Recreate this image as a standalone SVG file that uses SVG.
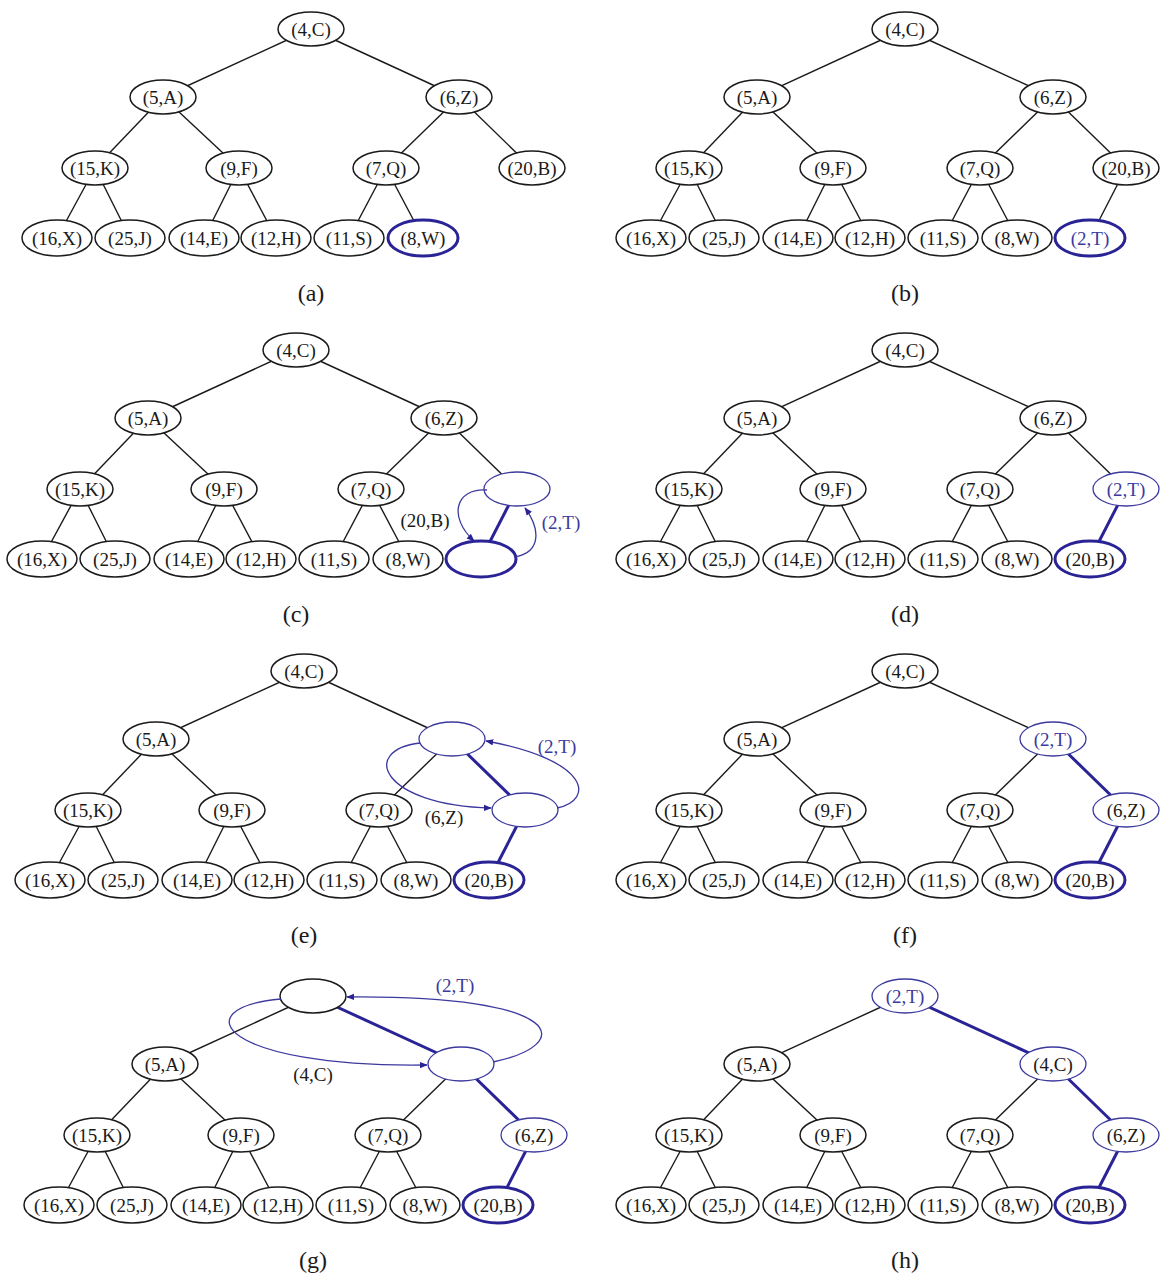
<svg xmlns="http://www.w3.org/2000/svg" width="1168" height="1275" viewBox="0 0 1168 1275">
<defs>
<style>
ellipse{fill:#fff;stroke:#1a1a1a;stroke-width:1.5}
ellipse.b{stroke:#3d3a9e;stroke-width:1.3}
ellipse.t{stroke:#2a2396;stroke-width:3}
line{stroke:#1a1a1a;stroke-width:1.4}
line.t{stroke:#2a2396;stroke-width:3}
path.c{fill:none;stroke:#3d3a9e;stroke-width:1.3}
text{font-family:"Liberation Serif","Times New Roman",serif;font-size:19px;fill:#1a1a1a;text-anchor:middle}
text.bt{fill:#3d3aa0}
text.cap{font-size:24px}
</style>
<marker id="ah" viewBox="0 0 10 10" refX="9" refY="5" markerWidth="8" markerHeight="8" markerUnits="userSpaceOnUse" orient="auto"><path d="M0,1 L10,5 L0,9 z" fill="#2a2396"/></marker>
</defs>
<rect width="1168" height="1275" fill="#fff"/>

<!-- Panel (a) -->
<g id="panel-a">
<g id="a-edges">
<line x1="311" y1="29" x2="163" y2="97"/><line x1="311" y1="29" x2="459" y2="97"/>
<line x1="163" y1="97" x2="95" y2="168"/><line x1="163" y1="97" x2="239" y2="168"/>
<line x1="459" y1="97" x2="386" y2="168"/><line x1="459" y1="97" x2="532" y2="168"/>
<line x1="95" y1="168" x2="57" y2="238"/><line x1="95" y1="168" x2="130" y2="238"/>
<line x1="239" y1="168" x2="204" y2="238"/><line x1="239" y1="168" x2="276" y2="238"/>
<line x1="386" y1="168" x2="349" y2="238"/><line x1="386" y1="168" x2="423" y2="238"/>
</g>
<g id="a-4C"><ellipse cx="311" cy="29" rx="33" ry="17"/><text x="311" y="35.5">(4,C)</text></g>
<g id="a-5A"><ellipse cx="163" cy="97" rx="33" ry="17"/><text x="163" y="103.5">(5,A)</text></g>
<g id="a-6Z"><ellipse cx="459" cy="97" rx="33" ry="17"/><text x="459" y="103.5">(6,Z)</text></g>
<g id="a-15K"><ellipse cx="95" cy="168" rx="33" ry="17"/><text x="95" y="174.5">(15,K)</text></g>
<g id="a-9F"><ellipse cx="239" cy="168" rx="33" ry="17"/><text x="239" y="174.5">(9,F)</text></g>
<g id="a-7Q"><ellipse cx="386" cy="168" rx="33" ry="17"/><text x="386" y="174.5">(7,Q)</text></g>
<g id="a-20B"><ellipse cx="532" cy="168" rx="33" ry="17"/><text x="532" y="174.5">(20,B)</text></g>
<g id="a-16X"><ellipse cx="57" cy="238" rx="35" ry="18"/><text x="57" y="244.5">(16,X)</text></g>
<g id="a-25J"><ellipse cx="130" cy="238" rx="35" ry="18"/><text x="130" y="244.5">(25,J)</text></g>
<g id="a-14E"><ellipse cx="204" cy="238" rx="35" ry="18"/><text x="204" y="244.5">(14,E)</text></g>
<g id="a-12H"><ellipse cx="276" cy="238" rx="35" ry="18"/><text x="276" y="244.5">(12,H)</text></g>
<g id="a-11S"><ellipse cx="349" cy="238" rx="35" ry="18"/><text x="349" y="244.5">(11,S)</text></g>
<g id="a-8W"><ellipse class="t" cx="423" cy="238" rx="35" ry="18"/><text x="423" y="244.5">(8,W)</text></g>
<text class="cap" x="311" y="301">(a)</text>
</g>

<!-- Panel (b) -->
<g id="panel-b" transform="translate(594,0)">
<g id="b-edges">
<line x1="311" y1="29" x2="163" y2="97"/><line x1="311" y1="29" x2="459" y2="97"/>
<line x1="163" y1="97" x2="95" y2="168"/><line x1="163" y1="97" x2="239" y2="168"/>
<line x1="459" y1="97" x2="386" y2="168"/><line x1="459" y1="97" x2="532" y2="168"/>
<line x1="95" y1="168" x2="57" y2="238"/><line x1="95" y1="168" x2="130" y2="238"/>
<line x1="239" y1="168" x2="204" y2="238"/><line x1="239" y1="168" x2="276" y2="238"/>
<line x1="386" y1="168" x2="349" y2="238"/><line x1="386" y1="168" x2="423" y2="238"/>
<line x1="532" y1="168" x2="496" y2="238"/>
</g>
<g id="b-4C"><ellipse cx="311" cy="29" rx="33" ry="17"/><text x="311" y="35.5">(4,C)</text></g>
<g id="b-5A"><ellipse cx="163" cy="97" rx="33" ry="17"/><text x="163" y="103.5">(5,A)</text></g>
<g id="b-6Z"><ellipse cx="459" cy="97" rx="33" ry="17"/><text x="459" y="103.5">(6,Z)</text></g>
<g id="b-15K"><ellipse cx="95" cy="168" rx="33" ry="17"/><text x="95" y="174.5">(15,K)</text></g>
<g id="b-9F"><ellipse cx="239" cy="168" rx="33" ry="17"/><text x="239" y="174.5">(9,F)</text></g>
<g id="b-7Q"><ellipse cx="386" cy="168" rx="33" ry="17"/><text x="386" y="174.5">(7,Q)</text></g>
<g id="b-20B"><ellipse cx="532" cy="168" rx="33" ry="17"/><text x="532" y="174.5">(20,B)</text></g>
<g id="b-16X"><ellipse cx="57" cy="238" rx="35" ry="18"/><text x="57" y="244.5">(16,X)</text></g>
<g id="b-25J"><ellipse cx="130" cy="238" rx="35" ry="18"/><text x="130" y="244.5">(25,J)</text></g>
<g id="b-14E"><ellipse cx="204" cy="238" rx="35" ry="18"/><text x="204" y="244.5">(14,E)</text></g>
<g id="b-12H"><ellipse cx="276" cy="238" rx="35" ry="18"/><text x="276" y="244.5">(12,H)</text></g>
<g id="b-11S"><ellipse cx="349" cy="238" rx="35" ry="18"/><text x="349" y="244.5">(11,S)</text></g>
<g id="b-8W"><ellipse cx="423" cy="238" rx="35" ry="18"/><text x="423" y="244.5">(8,W)</text></g>
<g id="b-2T"><ellipse class="t" cx="496" cy="238" rx="35" ry="18"/><text class="bt" x="496" y="244.5">(2,T)</text></g>
<text class="cap" x="311" y="301">(b)</text>
</g>

<!-- Panel (c) -->
<g id="panel-c" transform="translate(-15,321)">
<g id="c-edges">
<line x1="311" y1="29" x2="163" y2="97"/><line x1="311" y1="29" x2="459" y2="97"/>
<line x1="163" y1="97" x2="95" y2="168"/><line x1="163" y1="97" x2="239" y2="168"/>
<line x1="459" y1="97" x2="386" y2="168"/><line x1="459" y1="97" x2="532" y2="168"/>
<line x1="95" y1="168" x2="57" y2="238"/><line x1="95" y1="168" x2="130" y2="238"/>
<line x1="239" y1="168" x2="204" y2="238"/><line x1="239" y1="168" x2="276" y2="238"/>
<line x1="386" y1="168" x2="349" y2="238"/><line x1="386" y1="168" x2="423" y2="238"/>
<line class="t" x1="532" y1="168" x2="496" y2="238"/>
</g>
<g id="c-4C"><ellipse cx="311" cy="29" rx="33" ry="17"/><text x="311" y="35.5">(4,C)</text></g>
<g id="c-5A"><ellipse cx="163" cy="97" rx="33" ry="17"/><text x="163" y="103.5">(5,A)</text></g>
<g id="c-6Z"><ellipse cx="459" cy="97" rx="33" ry="17"/><text x="459" y="103.5">(6,Z)</text></g>
<g id="c-15K"><ellipse cx="95" cy="168" rx="33" ry="17"/><text x="95" y="174.5">(15,K)</text></g>
<g id="c-9F"><ellipse cx="239" cy="168" rx="33" ry="17"/><text x="239" y="174.5">(9,F)</text></g>
<g id="c-7Q"><ellipse cx="386" cy="168" rx="33" ry="17"/><text x="386" y="174.5">(7,Q)</text></g>
<g id="c-empty1"><ellipse class="b" cx="532" cy="168" rx="33" ry="17"/></g>
<g id="c-16X"><ellipse cx="57" cy="238" rx="35" ry="18"/><text x="57" y="244.5">(16,X)</text></g>
<g id="c-25J"><ellipse cx="130" cy="238" rx="35" ry="18"/><text x="130" y="244.5">(25,J)</text></g>
<g id="c-14E"><ellipse cx="204" cy="238" rx="35" ry="18"/><text x="204" y="244.5">(14,E)</text></g>
<g id="c-12H"><ellipse cx="276" cy="238" rx="35" ry="18"/><text x="276" y="244.5">(12,H)</text></g>
<g id="c-11S"><ellipse cx="349" cy="238" rx="35" ry="18"/><text x="349" y="244.5">(11,S)</text></g>
<g id="c-8W"><ellipse cx="423" cy="238" rx="35" ry="18"/><text x="423" y="244.5">(8,W)</text></g>
<g id="c-empty2"><ellipse class="t" cx="496" cy="238" rx="35" ry="18"/></g>
<g id="c-moves">
<path class="c" d="M502,169 C470,167 463,196 489,220" marker-end="url(#ah)"/>
<path class="c" d="M530,236 C557,231 555,207 540,187" marker-end="url(#ah)"/>
<text x="440" y="206">(20,B)</text>
<text class="bt" x="576" y="208">(2,T)</text>
</g>
<text class="cap" x="311" y="301">(c)</text>
</g>

<!-- Panel (d) -->
<g id="panel-d" transform="translate(594,321)">
<g id="d-edges">
<line x1="311" y1="29" x2="163" y2="97"/><line x1="311" y1="29" x2="459" y2="97"/>
<line x1="163" y1="97" x2="95" y2="168"/><line x1="163" y1="97" x2="239" y2="168"/>
<line x1="459" y1="97" x2="386" y2="168"/><line x1="459" y1="97" x2="532" y2="168"/>
<line x1="95" y1="168" x2="57" y2="238"/><line x1="95" y1="168" x2="130" y2="238"/>
<line x1="239" y1="168" x2="204" y2="238"/><line x1="239" y1="168" x2="276" y2="238"/>
<line x1="386" y1="168" x2="349" y2="238"/><line x1="386" y1="168" x2="423" y2="238"/>
<line class="t" x1="532" y1="168" x2="496" y2="238"/>
</g>
<g id="d-4C"><ellipse cx="311" cy="29" rx="33" ry="17"/><text x="311" y="35.5">(4,C)</text></g>
<g id="d-5A"><ellipse cx="163" cy="97" rx="33" ry="17"/><text x="163" y="103.5">(5,A)</text></g>
<g id="d-6Z"><ellipse cx="459" cy="97" rx="33" ry="17"/><text x="459" y="103.5">(6,Z)</text></g>
<g id="d-15K"><ellipse cx="95" cy="168" rx="33" ry="17"/><text x="95" y="174.5">(15,K)</text></g>
<g id="d-9F"><ellipse cx="239" cy="168" rx="33" ry="17"/><text x="239" y="174.5">(9,F)</text></g>
<g id="d-7Q"><ellipse cx="386" cy="168" rx="33" ry="17"/><text x="386" y="174.5">(7,Q)</text></g>
<g id="d-2T"><ellipse class="b" cx="532" cy="168" rx="33" ry="17"/><text class="bt" x="532" y="174.5">(2,T)</text></g>
<g id="d-16X"><ellipse cx="57" cy="238" rx="35" ry="18"/><text x="57" y="244.5">(16,X)</text></g>
<g id="d-25J"><ellipse cx="130" cy="238" rx="35" ry="18"/><text x="130" y="244.5">(25,J)</text></g>
<g id="d-14E"><ellipse cx="204" cy="238" rx="35" ry="18"/><text x="204" y="244.5">(14,E)</text></g>
<g id="d-12H"><ellipse cx="276" cy="238" rx="35" ry="18"/><text x="276" y="244.5">(12,H)</text></g>
<g id="d-11S"><ellipse cx="349" cy="238" rx="35" ry="18"/><text x="349" y="244.5">(11,S)</text></g>
<g id="d-8W"><ellipse cx="423" cy="238" rx="35" ry="18"/><text x="423" y="244.5">(8,W)</text></g>
<g id="d-20B"><ellipse class="t" cx="496" cy="238" rx="35" ry="18"/><text x="496" y="244.5">(20,B)</text></g>
<text class="cap" x="311" y="301">(d)</text>
</g>

<!-- Panel (e) -->
<g id="panel-e" transform="translate(-7,642)">
<g id="e-edges">
<line x1="311" y1="29" x2="163" y2="97"/><line x1="311" y1="29" x2="459" y2="97"/>
<line x1="163" y1="97" x2="95" y2="168"/><line x1="163" y1="97" x2="239" y2="168"/>
<line x1="459" y1="97" x2="386" y2="168"/><line class="t" x1="459" y1="97" x2="532" y2="168"/>
<line x1="95" y1="168" x2="57" y2="238"/><line x1="95" y1="168" x2="130" y2="238"/>
<line x1="239" y1="168" x2="204" y2="238"/><line x1="239" y1="168" x2="276" y2="238"/>
<line x1="386" y1="168" x2="349" y2="238"/><line x1="386" y1="168" x2="423" y2="238"/>
<line class="t" x1="532" y1="168" x2="496" y2="238"/>
</g>
<g id="e-4C"><ellipse cx="311" cy="29" rx="33" ry="17"/><text x="311" y="35.5">(4,C)</text></g>
<g id="e-5A"><ellipse cx="163" cy="97" rx="33" ry="17"/><text x="163" y="103.5">(5,A)</text></g>
<g id="e-empty1"><ellipse class="b" cx="459" cy="97" rx="33" ry="17"/></g>
<g id="e-15K"><ellipse cx="95" cy="168" rx="33" ry="17"/><text x="95" y="174.5">(15,K)</text></g>
<g id="e-9F"><ellipse cx="239" cy="168" rx="33" ry="17"/><text x="239" y="174.5">(9,F)</text></g>
<g id="e-7Q"><ellipse cx="386" cy="168" rx="33" ry="17"/><text x="386" y="174.5">(7,Q)</text></g>
<g id="e-empty2"><ellipse class="b" cx="532" cy="168" rx="33" ry="17"/></g>
<g id="e-16X"><ellipse cx="57" cy="238" rx="35" ry="18"/><text x="57" y="244.5">(16,X)</text></g>
<g id="e-25J"><ellipse cx="130" cy="238" rx="35" ry="18"/><text x="130" y="244.5">(25,J)</text></g>
<g id="e-14E"><ellipse cx="204" cy="238" rx="35" ry="18"/><text x="204" y="244.5">(14,E)</text></g>
<g id="e-12H"><ellipse cx="276" cy="238" rx="35" ry="18"/><text x="276" y="244.5">(12,H)</text></g>
<g id="e-11S"><ellipse cx="349" cy="238" rx="35" ry="18"/><text x="349" y="244.5">(11,S)</text></g>
<g id="e-8W"><ellipse cx="423" cy="238" rx="35" ry="18"/><text x="423" y="244.5">(8,W)</text></g>
<g id="e-20B"><ellipse class="t" cx="496" cy="238" rx="35" ry="18"/><text x="496" y="244.5">(20,B)</text></g>
<g id="e-moves">
<path class="c" d="M427,101 C367,108 387,163 498,166" marker-end="url(#ah)"/>
<path class="c" d="M564,166 C602,158 597,118 493,99" marker-end="url(#ah)"/>
<text class="bt" x="564" y="111">(2,T)</text>
<text x="451" y="182">(6,Z)</text>
</g>
<text class="cap" x="311" y="301">(e)</text>
</g>

<!-- Panel (f) -->
<g id="panel-f" transform="translate(594,642)">
<g id="f-edges">
<line x1="311" y1="29" x2="163" y2="97"/><line x1="311" y1="29" x2="459" y2="97"/>
<line x1="163" y1="97" x2="95" y2="168"/><line x1="163" y1="97" x2="239" y2="168"/>
<line x1="459" y1="97" x2="386" y2="168"/><line class="t" x1="459" y1="97" x2="532" y2="168"/>
<line x1="95" y1="168" x2="57" y2="238"/><line x1="95" y1="168" x2="130" y2="238"/>
<line x1="239" y1="168" x2="204" y2="238"/><line x1="239" y1="168" x2="276" y2="238"/>
<line x1="386" y1="168" x2="349" y2="238"/><line x1="386" y1="168" x2="423" y2="238"/>
<line class="t" x1="532" y1="168" x2="496" y2="238"/>
</g>
<g id="f-4C"><ellipse cx="311" cy="29" rx="33" ry="17"/><text x="311" y="35.5">(4,C)</text></g>
<g id="f-5A"><ellipse cx="163" cy="97" rx="33" ry="17"/><text x="163" y="103.5">(5,A)</text></g>
<g id="f-2T"><ellipse class="b" cx="459" cy="97" rx="33" ry="17"/><text class="bt" x="459" y="103.5">(2,T)</text></g>
<g id="f-15K"><ellipse cx="95" cy="168" rx="33" ry="17"/><text x="95" y="174.5">(15,K)</text></g>
<g id="f-9F"><ellipse cx="239" cy="168" rx="33" ry="17"/><text x="239" y="174.5">(9,F)</text></g>
<g id="f-7Q"><ellipse cx="386" cy="168" rx="33" ry="17"/><text x="386" y="174.5">(7,Q)</text></g>
<g id="f-6Z"><ellipse class="b" cx="532" cy="168" rx="33" ry="17"/><text x="532" y="174.5">(6,Z)</text></g>
<g id="f-16X"><ellipse cx="57" cy="238" rx="35" ry="18"/><text x="57" y="244.5">(16,X)</text></g>
<g id="f-25J"><ellipse cx="130" cy="238" rx="35" ry="18"/><text x="130" y="244.5">(25,J)</text></g>
<g id="f-14E"><ellipse cx="204" cy="238" rx="35" ry="18"/><text x="204" y="244.5">(14,E)</text></g>
<g id="f-12H"><ellipse cx="276" cy="238" rx="35" ry="18"/><text x="276" y="244.5">(12,H)</text></g>
<g id="f-11S"><ellipse cx="349" cy="238" rx="35" ry="18"/><text x="349" y="244.5">(11,S)</text></g>
<g id="f-8W"><ellipse cx="423" cy="238" rx="35" ry="18"/><text x="423" y="244.5">(8,W)</text></g>
<g id="f-20B"><ellipse class="t" cx="496" cy="238" rx="35" ry="18"/><text x="496" y="244.5">(20,B)</text></g>
<text class="cap" x="311" y="301">(f)</text>
</g>

<!-- Panel (g) -->
<g id="panel-g" transform="translate(2,967)">
<g id="g-edges">
<line x1="311" y1="29" x2="163" y2="97"/><line class="t" x1="311" y1="29" x2="459" y2="97"/>
<line x1="163" y1="97" x2="95" y2="168"/><line x1="163" y1="97" x2="239" y2="168"/>
<line x1="459" y1="97" x2="386" y2="168"/><line class="t" x1="459" y1="97" x2="532" y2="168"/>
<line x1="95" y1="168" x2="57" y2="238"/><line x1="95" y1="168" x2="130" y2="238"/>
<line x1="239" y1="168" x2="204" y2="238"/><line x1="239" y1="168" x2="276" y2="238"/>
<line x1="386" y1="168" x2="349" y2="238"/><line x1="386" y1="168" x2="423" y2="238"/>
<line class="t" x1="532" y1="168" x2="496" y2="238"/>
</g>
<g id="g-empty1"><ellipse cx="311" cy="29" rx="33" ry="17"/></g>
<g id="g-5A"><ellipse cx="163" cy="97" rx="33" ry="17"/><text x="163" y="103.5">(5,A)</text></g>
<g id="g-empty2"><ellipse class="b" cx="459" cy="97" rx="33" ry="17"/></g>
<g id="g-15K"><ellipse cx="95" cy="168" rx="33" ry="17"/><text x="95" y="174.5">(15,K)</text></g>
<g id="g-9F"><ellipse cx="239" cy="168" rx="33" ry="17"/><text x="239" y="174.5">(9,F)</text></g>
<g id="g-7Q"><ellipse cx="386" cy="168" rx="33" ry="17"/><text x="386" y="174.5">(7,Q)</text></g>
<g id="g-6Z"><ellipse class="b" cx="532" cy="168" rx="33" ry="17"/><text x="532" y="174.5">(6,Z)</text></g>
<g id="g-16X"><ellipse cx="57" cy="238" rx="35" ry="18"/><text x="57" y="244.5">(16,X)</text></g>
<g id="g-25J"><ellipse cx="130" cy="238" rx="35" ry="18"/><text x="130" y="244.5">(25,J)</text></g>
<g id="g-14E"><ellipse cx="204" cy="238" rx="35" ry="18"/><text x="204" y="244.5">(14,E)</text></g>
<g id="g-12H"><ellipse cx="276" cy="238" rx="35" ry="18"/><text x="276" y="244.5">(12,H)</text></g>
<g id="g-11S"><ellipse cx="349" cy="238" rx="35" ry="18"/><text x="349" y="244.5">(11,S)</text></g>
<g id="g-8W"><ellipse cx="423" cy="238" rx="35" ry="18"/><text x="423" y="244.5">(8,W)</text></g>
<g id="g-20B"><ellipse class="t" cx="496" cy="238" rx="35" ry="18"/><text x="496" y="244.5">(20,B)</text></g>
<g id="g-moves">
<path class="c" d="M279,32 C180,41 220,101 425,98" marker-end="url(#ah)"/>
<path class="c" d="M491,95 C573,78 568,28 345,30" marker-end="url(#ah)"/>
<text class="bt" x="453" y="25">(2,T)</text>
<text x="311" y="114">(4,C)</text>
</g>
<text class="cap" x="311" y="301">(g)</text>
</g>

<!-- Panel (h) -->
<g id="panel-h" transform="translate(594,967)">
<g id="h-edges">
<line x1="311" y1="29" x2="163" y2="97"/><line class="t" x1="311" y1="29" x2="459" y2="97"/>
<line x1="163" y1="97" x2="95" y2="168"/><line x1="163" y1="97" x2="239" y2="168"/>
<line x1="459" y1="97" x2="386" y2="168"/><line class="t" x1="459" y1="97" x2="532" y2="168"/>
<line x1="95" y1="168" x2="57" y2="238"/><line x1="95" y1="168" x2="130" y2="238"/>
<line x1="239" y1="168" x2="204" y2="238"/><line x1="239" y1="168" x2="276" y2="238"/>
<line x1="386" y1="168" x2="349" y2="238"/><line x1="386" y1="168" x2="423" y2="238"/>
<line class="t" x1="532" y1="168" x2="496" y2="238"/>
</g>
<g id="h-2T"><ellipse class="b" cx="311" cy="29" rx="33" ry="17"/><text class="bt" x="311" y="35.5">(2,T)</text></g>
<g id="h-5A"><ellipse cx="163" cy="97" rx="33" ry="17"/><text x="163" y="103.5">(5,A)</text></g>
<g id="h-4C"><ellipse class="b" cx="459" cy="97" rx="33" ry="17"/><text x="459" y="103.5">(4,C)</text></g>
<g id="h-15K"><ellipse cx="95" cy="168" rx="33" ry="17"/><text x="95" y="174.5">(15,K)</text></g>
<g id="h-9F"><ellipse cx="239" cy="168" rx="33" ry="17"/><text x="239" y="174.5">(9,F)</text></g>
<g id="h-7Q"><ellipse cx="386" cy="168" rx="33" ry="17"/><text x="386" y="174.5">(7,Q)</text></g>
<g id="h-6Z"><ellipse class="b" cx="532" cy="168" rx="33" ry="17"/><text x="532" y="174.5">(6,Z)</text></g>
<g id="h-16X"><ellipse cx="57" cy="238" rx="35" ry="18"/><text x="57" y="244.5">(16,X)</text></g>
<g id="h-25J"><ellipse cx="130" cy="238" rx="35" ry="18"/><text x="130" y="244.5">(25,J)</text></g>
<g id="h-14E"><ellipse cx="204" cy="238" rx="35" ry="18"/><text x="204" y="244.5">(14,E)</text></g>
<g id="h-12H"><ellipse cx="276" cy="238" rx="35" ry="18"/><text x="276" y="244.5">(12,H)</text></g>
<g id="h-11S"><ellipse cx="349" cy="238" rx="35" ry="18"/><text x="349" y="244.5">(11,S)</text></g>
<g id="h-8W"><ellipse cx="423" cy="238" rx="35" ry="18"/><text x="423" y="244.5">(8,W)</text></g>
<g id="h-20B"><ellipse class="t" cx="496" cy="238" rx="35" ry="18"/><text x="496" y="244.5">(20,B)</text></g>
<text class="cap" x="311" y="301">(h)</text>
</g>
</svg>
